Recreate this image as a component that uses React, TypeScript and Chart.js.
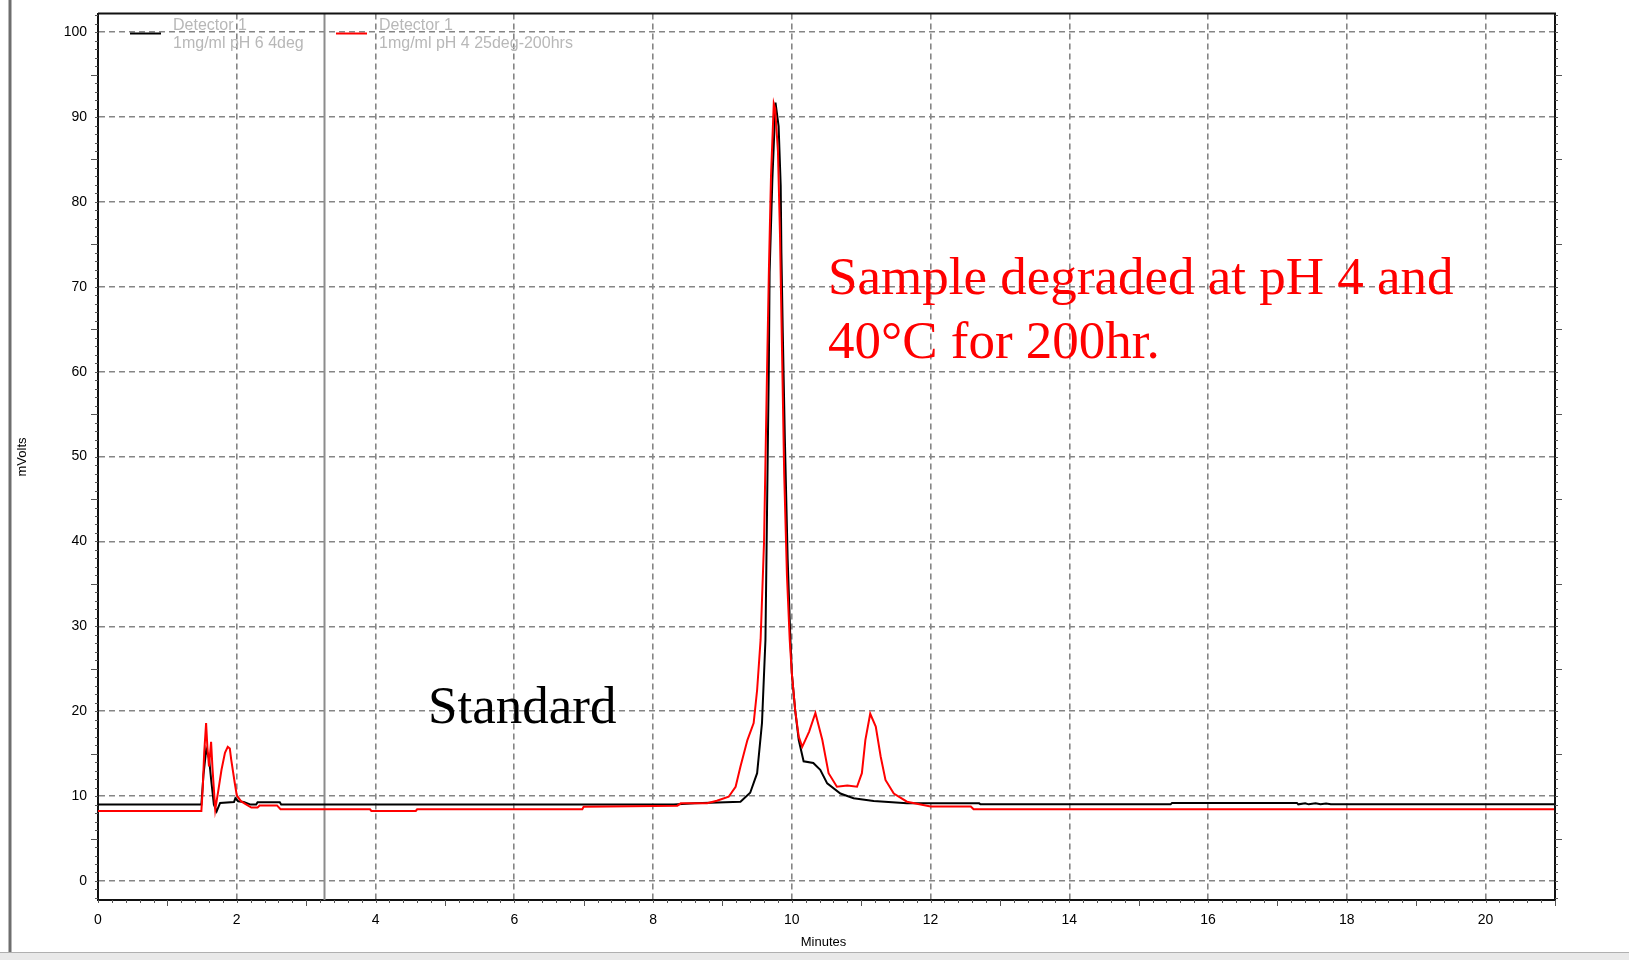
import React, { useEffect, useRef } from "react";
import { Chart, registerables } from "chart.js";

Chart.register(...registerables);

// [minutes, mVolts]
const standardTrace: [number, number][] = [
  [0, 9.0], [1.49, 9.0], [1.52, 12.5], [1.56, 15.5], [1.6, 14.5], [1.63, 12.0], [1.67, 9.0],
  [1.71, 8.2], [1.76, 9.2], [1.96, 9.3], [1.98, 9.75], [2.02, 9.4], [2.1, 9.3], [2.2, 9.0],
  [2.28, 9.0], [2.3, 9.27], [2.62, 9.27], [2.64, 9.0], [8.3, 9.0], [8.6, 9.15], [9.26, 9.34],
  [9.4, 10.4], [9.5, 12.7], [9.57, 18.6], [9.62, 28.4], [9.645, 45], [9.67, 61.4], [9.68, 71.7],
  [9.72, 82.7], [9.765, 91.7], [9.81, 88.9], [9.84, 81.9], [9.85, 74], [9.87, 64.6], [9.9, 52],
  [9.94, 38], [9.98, 28.4], [10.0, 24.5], [10.05, 20], [10.1, 16.6], [10.17, 14.1], [10.31, 13.9],
  [10.41, 13.1], [10.51, 11.5], [10.7, 10.3], [10.89, 9.74], [11.18, 9.43], [11.66, 9.15],
  [12.7, 9.15], [12.72, 9.03], [15.46, 9.03], [15.48, 9.2], [17.28, 9.2], [17.3, 9.03],
  [17.4, 9.15], [17.45, 9.03], [17.55, 9.15], [17.62, 9.03], [17.7, 9.12], [17.77, 9.03], [21.0, 9.03],
];

const degradedTrace: [number, number][] = [
  [0, 8.25], [1.49, 8.25], [1.51, 11], [1.53, 15], [1.558, 18.6], [1.577, 15.7], [1.6, 13.5],
  [1.63, 16.4], [1.65, 13.3], [1.69, 8.4], [1.735, 10.7], [1.78, 13.1], [1.83, 15.1], [1.87, 15.8],
  [1.9, 15.6], [1.92, 14.3], [1.97, 11.6], [2.0, 10.1], [2.06, 9.4], [2.14, 9.0], [2.21, 8.65],
  [2.3, 8.65], [2.33, 8.9], [2.58, 8.9], [2.63, 8.45], [3.92, 8.45], [3.94, 8.25], [4.58, 8.25],
  [4.6, 8.45], [6.98, 8.45], [7.0, 8.75], [8.35, 8.87], [8.4, 9.15], [8.78, 9.15], [8.92, 9.46],
  [9.09, 9.93], [9.19, 11.1], [9.26, 13.5], [9.36, 16.6], [9.45, 18.6], [9.5, 22.5], [9.55, 28.4],
  [9.6, 40], [9.645, 61], [9.67, 72], [9.7, 83], [9.74, 91.6], [9.76, 91], [9.8, 86], [9.83, 76],
  [9.86, 62], [9.89, 48], [9.93, 36], [9.97, 28.4], [10.0, 24.5], [10.05, 20], [10.1, 17],
  [10.15, 15.8], [10.25, 17.6], [10.34, 19.8], [10.44, 16.6], [10.53, 12.7], [10.65, 11.1],
  [10.8, 11.25], [10.94, 11.1], [11.01, 12.7], [11.06, 16.6], [11.13, 19.7], [11.21, 18.2],
  [11.28, 14.7], [11.35, 11.9], [11.47, 10.3], [11.66, 9.34], [12.0, 8.77], [12.58, 8.77],
  [12.62, 8.45], [21.0, 8.45],
];

const legendTitles = ["Detector 1", "Detector 1"];
const legendLabels = ["1mg/ml pH 6 4deg", "1mg/ml pH 4 25deg-200hrs"];
const seriesColors = ["#000000", "#ff0000"];
const annotationLines = ["Sample degraded at pH 4 and", "40°C for 200hr."];
const standardLabel = "Standard";
const xAxisTitle = "Minutes";
const yAxisTitle = "mVolts";
const markerTime = 3.26;

const SANS = '"Liberation Sans", Arial, sans-serif';
const SERIF = '"Liberation Serif", "Times New Roman", serif';

const decorPlugin = {
  id: "decor",
  beforeDatasetsDraw(chart: any) {
    const { ctx, chartArea: a, scales } = chart;
    const x = scales.x;
    ctx.save();
    const mx = Math.round(x.getPixelForValue(markerTime)) + 0.5;
    ctx.strokeStyle = "#8c8c8c";
    ctx.lineWidth = 2;
    ctx.beginPath();
    ctx.moveTo(mx, a.top);
    ctx.lineTo(mx, a.bottom);
    ctx.stroke();
    ctx.restore();
  },
  afterDraw(chart: any) {
    const { ctx, chartArea: a, scales } = chart;
    const x = scales.x;
    const y = scales.y;
    ctx.save();
    // window edge (left) and bottom band
    ctx.fillStyle = "#6e6e6e";
    ctx.fillRect(8.5, 0, 3, 952);
    ctx.fillStyle = "#e9e9e9";
    ctx.fillRect(0, 953, 1629, 7);
    ctx.fillStyle = "#b0b0b0";
    ctx.fillRect(0, 952, 1629, 1);

    // top + right frame
    ctx.strokeStyle = "#111111";
    ctx.lineWidth = 2;
    ctx.beginPath();
    ctx.moveTo(a.left, a.top);
    ctx.lineTo(a.right, a.top);
    ctx.lineTo(a.right, a.bottom);
    ctx.stroke();

    // minor ticks
    ctx.strokeStyle = "#555555";
    ctx.lineWidth = 1;
    ctx.beginPath();
    for (let v = -2; v <= 102; v++) {
      const yy = Math.round(y.getPixelForValue(v)) + 0.5;
      const len = v % 5 === 0 && v % 10 !== 0 ? 7 : 3;
      ctx.moveTo(a.left - len, yy);
      ctx.lineTo(a.left, yy);
      ctx.moveTo(a.right, yy);
      ctx.lineTo(a.right + len, yy);
    }
    for (let k = 0; k <= 105; k++) {
      const t = k / 5;
      const xx = Math.round(x.getPixelForValue(t)) + 0.5;
      const len = k % 5 === 0 && (k / 5) % 2 === 1 ? 6 : 3;
      ctx.moveTo(xx, a.bottom);
      ctx.lineTo(xx, a.bottom + len);
    }
    ctx.stroke();

    // axis titles
    ctx.fillStyle = "#000000";
    ctx.font = `13px ${SANS}`;
    ctx.textAlign = "center";
    ctx.textBaseline = "middle";
    ctx.fillText(xAxisTitle, (a.left + a.right) / 2 - 3, 942);
    ctx.save();
    ctx.translate(22, 457);
    ctx.rotate(-Math.PI / 2);
    ctx.fillText(yAxisTitle, 0, 0);
    ctx.restore();

    // legend
    const legendX = [130, 336];
    ctx.font = `16px ${SANS}`;
    ctx.textAlign = "left";
    for (let i = 0; i < 2; i++) {
      ctx.strokeStyle = seriesColors[i];
      ctx.lineWidth = 2;
      ctx.beginPath();
      ctx.moveTo(legendX[i], 33.5);
      ctx.lineTo(legendX[i] + 31, 33.5);
      ctx.stroke();
      ctx.fillStyle = "#b8b8b8";
      ctx.fillText(legendTitles[i], legendX[i] + 43, 26);
      ctx.fillText(legendLabels[i], legendX[i] + 43, 44);
    }

    // annotations
    ctx.textBaseline = "alphabetic";
    ctx.font = `53px ${SERIF}`;
    ctx.fillStyle = "#ff0000";
    ctx.fillText(annotationLines[0], 828, 294);
    ctx.fillText(annotationLines[1], 828, 358);
    ctx.fillStyle = "#000000";
    ctx.fillText(standardLabel, 428, 723);
    ctx.restore();
  },
};

export default function App() {
  const ref = useRef<HTMLCanvasElement>(null);
  useEffect(() => {
    document.body.style.margin = "0";
    const canvas = ref.current!;
    const chart = new Chart(canvas, {
      type: "line",
      data: {
        datasets: [
          {
            label: legendLabels[1],
            data: degradedTrace.map(([t, v]) => ({ x: t, y: v })),
            borderColor: seriesColors[1],
            borderWidth: 2,
            pointRadius: 0,
            tension: 0,
            fill: false,
            order: 1,
          },
          {
            label: legendLabels[0],
            data: standardTrace.map(([t, v]) => ({ x: t, y: v })),
            borderColor: seriesColors[0],
            borderWidth: 2,
            pointRadius: 0,
            tension: 0,
            fill: false,
            order: 2,
          },
        ],
      },
      options: {
        responsive: false,
        animation: false,
        devicePixelRatio: 1,
        layout: { padding: { top: 13.5, right: 74, left: 0, bottom: 0 } },
        plugins: { legend: { display: false }, tooltip: { enabled: false } },
        scales: {
          x: {
            type: "linear",
            min: 0,
            max: 21,
            afterFit: (s: any) => {
              s.height = 60;
              s.paddingLeft = 0;
              s.paddingRight = 0;
            },
            ticks: {
              stepSize: 2,
              includeBounds: false,
              autoSkip: false,
              maxRotation: 0,
              padding: 12,
              color: "#000000",
              font: { family: SANS, size: 14 },
            },
            grid: { color: "#858585", lineWidth: 1.6, drawTicks: false },
            border: { display: true, color: "#111111", width: 2, dash: [6, 4] },
          },
          y: {
            type: "linear",
            min: -2.24,
            max: 102.2,
            afterFit: (s: any) => {
              s.width = 98;
              s.paddingTop = 0;
              s.paddingBottom = 0;
            },
            ticks: {
              stepSize: 10,
              includeBounds: false,
              padding: 11,
              color: "#000000",
              font: { family: SANS, size: 14 },
            },
            grid: { color: "#858585", lineWidth: 1.6, drawTicks: false },
            border: { display: true, color: "#111111", width: 2, dash: [6, 4] },
          },
        },
      } as any,
      plugins: [decorPlugin],
    });
    return () => chart.destroy();
  }, []);
  return (
    <div style={{ width: 1629, height: 960 }}>
      <canvas ref={ref} width={1629} height={960} style={{ display: "block" }} />
    </div>
  );
}
